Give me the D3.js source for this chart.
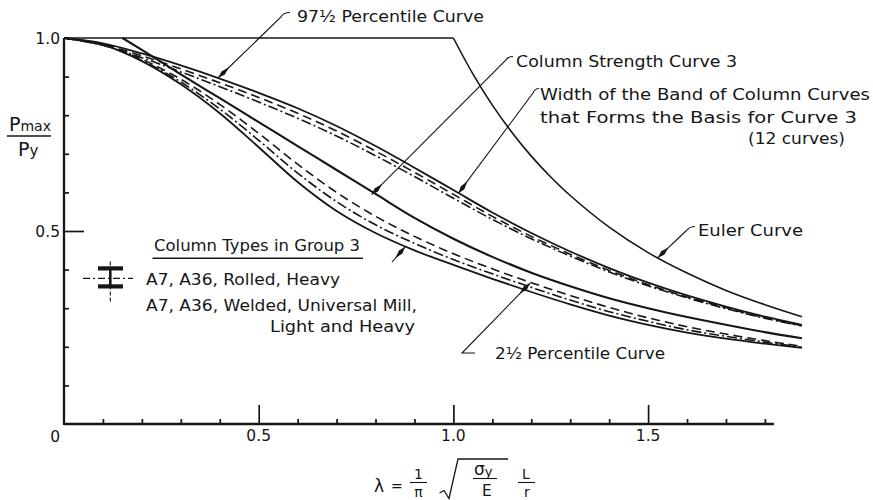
<!DOCTYPE html>
<html>
<head>
<meta charset="utf-8">
<script src="https://cdn.jsdelivr.net/npm/d3@7"></script>
<style>
  body { margin: 0; background: #fff; }
  text { font-family: "DejaVu Sans", sans-serif; fill: #161616; }
</style>
</head>
<body>
<svg id="chart" width="873" height="500"></svg>
<script>
// Slenderness parameter grid shared by the band curves
const lam = [0, 0.1, 0.2, 0.3, 0.4, 0.5, 0.6, 0.7, 0.8, 0.9, 1.0, 1.1, 1.2, 1.3, 1.4, 1.5, 1.6, 1.7, 1.8, 1.895];

// Upper edge of the band
const upper975 = [1, 0.986, 0.960, 0.929, 0.895, 0.858, 0.818, 0.772, 0.720, 0.664, 0.606, 0.548, 0.495, 0.447, 0.404, 0.366, 0.333, 0.304, 0.278, 0.257];
const upperDash = [1, 0.983, 0.954, 0.920, 0.884, 0.846, 0.805, 0.759, 0.707, 0.652, 0.595, 0.538, 0.486, 0.440, 0.398, 0.361, 0.329, 0.301, 0.275, 0.255];
const upperDashDot = [1, 0.981, 0.949, 0.912, 0.874, 0.834, 0.792, 0.746, 0.695, 0.641, 0.585, 0.530, 0.480, 0.435, 0.394, 0.358, 0.327, 0.299, 0.274, 0.254];

// Lower edge of the band
const lowerDash = [1, 0.983, 0.945, 0.893, 0.828, 0.753, 0.673, 0.600, 0.538, 0.486, 0.441, 0.402, 0.366, 0.333, 0.302, 0.275, 0.252, 0.233, 0.216, 0.201];
const lowerDashDot = [1, 0.982, 0.942, 0.886, 0.816, 0.735, 0.650, 0.576, 0.516, 0.468, 0.426, 0.389, 0.354, 0.321, 0.291, 0.266, 0.244, 0.227, 0.212, 0.199];
const lower025 = [1, 0.982, 0.940, 0.880, 0.805, 0.717, 0.627, 0.552, 0.495, 0.450, 0.412, 0.376, 0.342, 0.310, 0.281, 0.257, 0.237, 0.221, 0.208, 0.197];

// Column strength curve 3
const lam3 = [0.15, 0.2, 0.3, 0.4, 0.5, 0.6, 0.7, 0.8, 0.9, 1.0, 1.1, 1.2, 1.3, 1.4, 1.5, 1.6, 1.7, 1.8, 1.895];
const curve3 = [1.0, 0.969, 0.906, 0.844, 0.782, 0.720, 0.658, 0.596, 0.534, 0.480, 0.433, 0.392, 0.357, 0.326, 0.300, 0.277, 0.257, 0.238, 0.222];

// Euler curve, capped at the squash load
const capLam = [0, 1.0];
const capVal = [1, 1];
const eulerLam = [1.0, 1.05, 1.1, 1.15, 1.2, 1.25, 1.3, 1.4, 1.5, 1.6, 1.7, 1.8, 1.895];
const eulerVal = [1, 0.907, 0.826, 0.756, 0.694, 0.640, 0.592, 0.510, 0.444, 0.391, 0.346, 0.309, 0.278];

// Axis ticks
const xMinor = [0.1, 0.2, 0.3, 0.4, 0.6, 0.7, 0.8, 0.9, 1.1, 1.2, 1.3, 1.4, 1.6, 1.7, 1.8];
const xMajor = [0.5, 1.0, 1.5];
const xTickLabels = ["0.5", "1.0", "1.5"];
const yMinor = [0.1, 0.2, 0.3, 0.4, 0.6, 0.7, 0.8, 0.9];
const yMajor = [0.5, 1.0];
const yTickLabels = ["0.5", "1.0"];
const xAxisEnd = 1.823;

const svg = d3.select("#chart");
const x = d3.scaleLinear().domain([0, 1]).range([64, 453.4]);
const y = d3.scaleLinear().domain([0, 1]).range([424, 38]);
const ink = "#161616";

// ---- axes ----
const gx = svg.append("g").attr("transform", `translate(0,${y(0)})`);
gx.call(d3.axisBottom(x).tickValues(xMinor).tickSize(-5).tickFormat(""));
gx.call(g => g.select(".domain").remove());
const gxMaj = svg.append("g").attr("transform", `translate(0,${y(0)})`)
  .call(d3.axisBottom(x).tickValues(xMajor).tickSize(-19).tickFormat(""));
gxMaj.select(".domain").remove();

const gy = svg.append("g").attr("transform", `translate(${x(0)},0)`)
  .call(d3.axisLeft(y).tickValues(yMinor).tickSize(-5).tickFormat(""));
gy.select(".domain").remove();
const gyMaj = svg.append("g").attr("transform", `translate(${x(0)},0)`)
  .call(d3.axisLeft(y).tickValues([yMajor[0]]).tickSize(-20).tickFormat(""));
gyMaj.select(".domain").remove();
svg.selectAll(".tick line").attr("stroke", ink).attr("stroke-width", 1.7);

svg.append("line").attr("x1", x(0)).attr("x2", x(xAxisEnd)).attr("y1", y(0)).attr("y2", y(0))
  .attr("stroke", ink).attr("stroke-width", 2.3);
svg.append("line").attr("x1", x(0)).attr("x2", x(0)).attr("y1", y(0) + 1).attr("y2", y(1))
  .attr("stroke", ink).attr("stroke-width", 2.3);

// tick labels
svg.selectAll(".xl").data(xMajor).enter().append("text")
  .attr("x", d => x(d)).attr("y", y(0) + 17).attr("text-anchor", "middle")
  .attr("font-size", 15.5).text((d, i) => xTickLabels[i]);
svg.selectAll(".yl").data(yMajor).enter().append("text")
  .attr("x", x(0) - 4).attr("y", d => y(d) + 6).attr("text-anchor", "end")
  .attr("font-size", 15.5).text((d, i) => yTickLabels[i]);
svg.append("text").attr("x", x(0) - 4).attr("y", y(0) + 18).attr("text-anchor", "end")
  .attr("font-size", 15.5).text("0");

// ---- curves ----
const pts = (xs, ys) => xs.map((v, i) => [v, ys[i]]);
const series = [
  { xs: capLam, ys: capVal, w: 1.7, dash: null, curve: d3.curveLinear },
  { xs: eulerLam, ys: eulerVal, w: 1.6, dash: null },
  { xs: lam, ys: upperDashDot, w: 1.6, dash: "10,3,2,3" },
  { xs: lam, ys: upperDash, w: 1.6, dash: "9,5" },
  { xs: lam, ys: upper975, w: 1.8, dash: null },
  { xs: lam3, ys: curve3, w: 2.1, dash: null, curve: d3.curveMonotoneX },
  { xs: lam, ys: lowerDash, w: 1.6, dash: "9,5" },
  { xs: lam, ys: lowerDashDot, w: 1.6, dash: "10,3,2,3" },
  { xs: lam, ys: lower025, w: 1.8, dash: null }
];
series.forEach(s => {
  const gen = d3.line().x(d => x(d[0])).y(d => y(d[1]))
    .curve(s.curve || d3.curveCatmullRom.alpha(0.5));
  svg.append("path").attr("d", gen(pts(s.xs, s.ys)))
    .attr("fill", "none").attr("stroke", ink).attr("stroke-width", s.w)
    .attr("stroke-dasharray", s.dash).attr("stroke-linecap", "butt");
});

// ---- annotation leaders with drafting arrowheads ----
function arrowHead(tip, from, len = 15, half = 2.3) {
  const dx = tip[0] - from[0], dy = tip[1] - from[1];
  const d = Math.hypot(dx, dy), ux = dx / d, uy = dy / d;
  const bx = tip[0] - ux * len, by = tip[1] - uy * len;
  const mx = tip[0] - ux * len * 0.45, my = tip[1] - uy * len * 0.45;
  svg.append("path")
    .attr("d", `M${tip[0]},${tip[1]} L${mx - uy * half},${my + ux * half} L${bx},${by} L${mx + uy * half},${my - ux * half} Z`)
    .attr("fill", ink);
}
function leader(tipData, corner, hook) {
  const tip = [x(tipData[0]), y(tipData[1])];
  let d = `M${tip[0]},${tip[1]} L${corner[0]},${corner[1]}`;
  if (hook) d += ` Q${hook[0]},${hook[1]} ${hook[2]},${hook[3]}`;
  svg.append("path").attr("d", d).attr("fill", "none").attr("stroke", ink).attr("stroke-width", 1.1);
  arrowHead(tip, corner);
}
leader([0.396, 0.897], [281, 17], [283, 12.5, 290, 12.5]);
leader([0.79, 0.594], [505, 61], [507.5, 56.5, 513, 56.5]);
leader([1.013, 0.598], [533, 93], [535, 88.5, 539, 88.5]);
leader([0.876, 0.459], [392, 262], null);
leader([1.525, 0.431], [687, 230], [690, 226.5, 695, 226.5]);
// 2 1/2 percentile leader with a short foot
{
  const tip = [x(1.197), y(0.365)];
  svg.append("path").attr("d", `M475,353 L462,353 L${tip[0]},${tip[1]}`)
    .attr("fill", "none").attr("stroke", ink).attr("stroke-width", 1.1);
  arrowHead(tip, [462, 353]);
}

// ---- labels ----
function label(str, x0, base, width, size = 16) {
  svg.append("text").attr("x", x0).attr("y", base).attr("font-size", size)
    .attr("textLength", width).attr("lengthAdjust", "spacingAndGlyphs").text(str);
}
label("97½ Percentile Curve", 297, 21.5, 187);
label("Column Strength Curve 3", 516, 66.5, 221);
label("Width of the Band of Column Curves", 540, 100, 330);
label("that Forms the Basis for Curve 3", 540, 122.5, 317);
label("(12 curves)", 748, 143.5, 97);
label("Euler Curve", 698, 236, 105);
label("2½ Percentile Curve", 495, 358.5, 170);

// legend
label("Column Types in Group 3", 154, 250.5, 206);
svg.append("line").attr("x1", 152.5).attr("x2", 363).attr("y1", 258.3).attr("y2", 258.3)
  .attr("stroke", ink).attr("stroke-width", 1.4);
label("A7, A36, Rolled, Heavy", 146, 284.5, 194);
label("A7, A36, Welded, Universal Mill,", 146, 311, 271);
label("Light and Heavy", 270, 332, 145);

const sym = svg.append("g");
sym.append("line").attr("x1", 83).attr("x2", 133).attr("y1", 278.3).attr("y2", 278.3)
  .attr("stroke", ink).attr("stroke-width", 1.3).attr("stroke-dasharray", "7,3,2,3");
sym.append("rect").attr("x", 98).attr("y", 266.3).attr("width", 25).attr("height", 4.2).attr("fill", ink);
sym.append("rect").attr("x", 98).attr("y", 284.3).attr("width", 25).attr("height", 4.2).attr("fill", ink);
sym.append("line").attr("x1", 110.3).attr("x2", 110.3).attr("y1", 268).attr("y2", 287)
  .attr("stroke", ink).attr("stroke-width", 2.6);
sym.append("line").attr("x1", 110.3).attr("x2", 110.3).attr("y1", 261.5).attr("y2", 302)
  .attr("stroke", ink).attr("stroke-width", 1.1).attr("stroke-dasharray", "4,2");

// ---- y axis title: Pmax / Py ----
const yt = svg.append("text").attr("x", 9).attr("y", 131).attr("font-size", 19);
yt.append("tspan").text("P");
yt.append("tspan").attr("font-size", 14).text("max");
svg.append("line").attr("x1", 7).attr("x2", 51).attr("y1", 136).attr("y2", 136)
  .attr("stroke", ink).attr("stroke-width", 1.4);
const yb = svg.append("text").attr("x", 18).attr("y", 156).attr("font-size", 19);
yb.append("tspan").text("P");
yb.append("tspan").attr("font-size", 15).text("y");

// ---- x axis title: lambda = (1/pi) sqrt(sigma_y/E) (L/r) ----
const xt = svg.append("g");
xt.append("text").attr("x", 374).attr("y", 492).attr("font-size", 17).text("λ");
xt.append("text").attr("x", 391).attr("y", 491).attr("font-size", 14).text("=");
xt.append("text").attr("x", 418.5).attr("y", 478.5).attr("font-size", 14).attr("text-anchor", "middle").text("1");
xt.append("line").attr("x1", 410).attr("x2", 427).attr("y1", 482.5).attr("y2", 482.5).attr("stroke", ink).attr("stroke-width", 1.1);
xt.append("text").attr("x", 418.5).attr("y", 496.5).attr("font-size", 14).attr("text-anchor", "middle").text("π");
xt.append("path").attr("d", "M439.5,493 L444,490.5 L449,498.5 L458,459 L508,459")
  .attr("fill", "none").attr("stroke", ink).attr("stroke-width", 1.3);
const sig = xt.append("text").attr("x", 474).attr("y", 474.5).attr("font-size", 17);
sig.append("tspan").text("σ");
sig.append("tspan").attr("font-size", 13).attr("dy", 1).text("y");
xt.append("line").attr("x1", 473).attr("x2", 497).attr("y1", 478.5).attr("y2", 478.5).attr("stroke", ink).attr("stroke-width", 1.1);
xt.append("text").attr("x", 487).attr("y", 495.5).attr("font-size", 15.5).attr("text-anchor", "middle").text("E");
xt.append("text").attr("x", 526).attr("y", 478.5).attr("font-size", 14).attr("text-anchor", "middle").text("L");
xt.append("line").attr("x1", 518).attr("x2", 535).attr("y1", 482.5).attr("y2", 482.5).attr("stroke", ink).attr("stroke-width", 1.1);
xt.append("text").attr("x", 527).attr("y", 496.5).attr("font-size", 14).attr("text-anchor", "middle").text("r");
</script>
</body>
</html>
